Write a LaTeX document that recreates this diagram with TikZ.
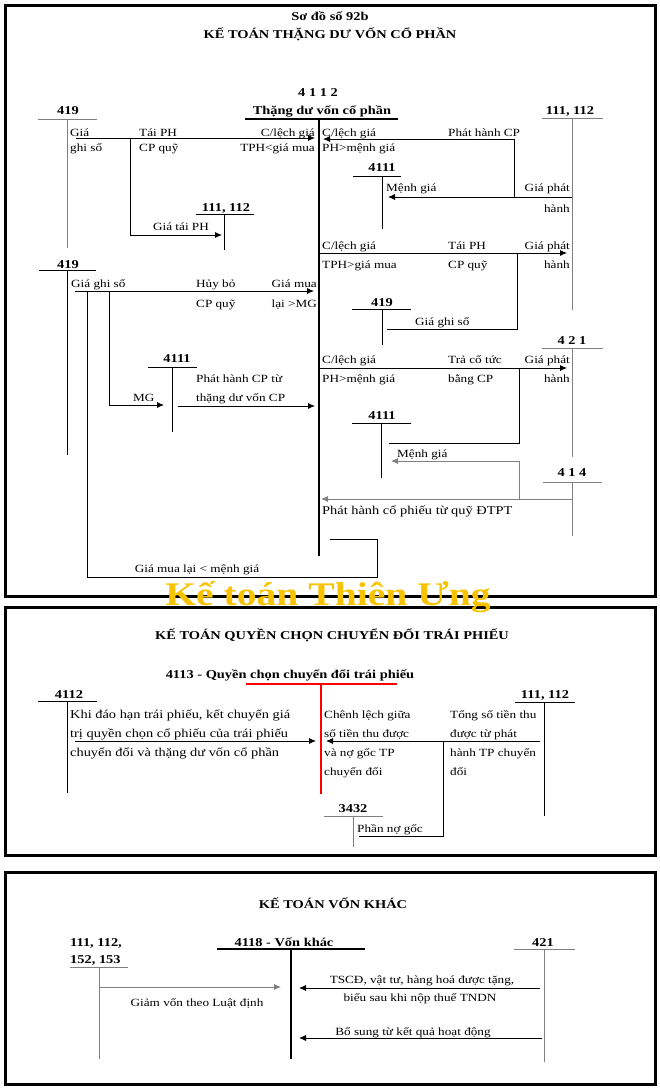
\documentclass[tikz,border=0pt]{standalone}
\usepackage{fontspec}
\setmainfont{Liberation Serif}[FakeStretch=1.2]
\usetikzlibrary{arrows.meta,positioning,calc}
\definecolor{cline}{HTML}{808080}
\definecolor{cred}{HTML}{FF0000}
\definecolor{cmark}{HTML}{F7C200}
\tikzset{
  frame/.style={draw, line width=3pt},
  ttl/.style={font=\fontsize{12}{14}\selectfont\bfseries, inner sep=0pt, anchor=base},
  acc/.style={font=\fontsize{12}{14}\selectfont\bfseries, inner sep=0pt, anchor=base},
  lbl/.style={font=\fontsize{11}{13}\selectfont, inner sep=0pt, anchor=base west},
  lblr/.style={lbl, anchor=base east},
  lblc/.style={lbl, anchor=base},
  big/.style={font=\fontsize{12}{14}\selectfont, inner sep=0pt, anchor=base west},
  wmark/.style={font=\fontsize{33}{36}\selectfont\bfseries, text=cmark, inner sep=0pt, anchor=base},
  tk/.style={line width=0.8pt},
  tkg/.style={tk, draw=cline},
  tkb/.style={line width=2pt},
  tkr/.style={line width=1.5pt, draw=cred},
  link/.style={line width=0.8pt},
  flow/.style={link, -{Latex[length=7pt,width=6pt]}},
  flowg/.style={flow, draw=cline},
}
% T-account: style, name, left x, right x, stem x, top y, bottom y
\newcommand{\tacct}[7]{%
  \coordinate (#2-l) at (#3,#6);
  \coordinate (#2-r) at (#4,#6);
  \coordinate (#2-t) at (#5,#6);
  \coordinate (#2-b) at (#5,#7);
  \draw[#1] (#2-l) -- (#2-r) (#2-t) -- (#2-b);
}
\begin{document}
\begin{tikzpicture}[x=1pt, y=-1pt]
  \useasboundingbox (0,0) rectangle (660,1090);
  \draw[frame] (5.5,5.5) rectangle (655,596);
  \draw[frame] (5.5,607.5) rectangle (655,855);
  \draw[frame] (5.5,872) rectangle (655,1084);

  % ---- so do 92b
  \node[ttl] (h1) at (330,20) {Sơ đồ số 92b};
  \node[ttl] (h2) at (330,38) {KẾ TOÁN THẶNG DƯ VỐN CỔ PHẦN};

  \tacct{tkb}{a4112}{245}{398}{318.5}{119}{556}
  \tacct{tkg}{a419a}{38}{97}{67}{119}{248}
  \tacct{tk}{a111s}{196}{254}{224}{214}{250}
  \tacct{tkg}{a111r}{542}{603}{572}{118}{310}
  \tacct{tk}{a4111a}{353}{401}{382}{176}{229}
  \tacct{tk}{a419c}{352}{411}{382}{309}{345}
  \tacct{tk}{a419b}{39}{96}{67}{270}{455}
  \tacct{tkg}{a421}{542}{603}{572}{348}{457}
  \tacct{tk}{a4111b}{148}{197}{172}{367}{432}
  \tacct{tk}{a4111c}{352}{411}{381}{423}{478}
  \tacct{tkg}{a414}{543}{602}{572}{482}{536}

  \node[acc] (n4112) at (318,96) {4 1 1 2};
  \node[acc] (n4112t) at (322,114) {Thặng dư vốn cổ phần};
  \node[acc] (n419a) at (68,114) {419};
  \node[acc] (n111r) at (570,114) {111, 112};
  \node[acc] (n4111a) at (382,171) {4111};
  \node[acc] (n111s) at (226,211) {111, 112};
  \node[acc] (n419b) at (68,268) {419};
  \node[acc] (n419c) at (382,306) {419};
  \node[acc] (n421) at (572,344) {4 2 1};
  \node[acc] (n4111b) at (177,362) {4111};
  \node[acc] (n4111c) at (382,419) {4111};
  \node[acc] (n414) at (572,476) {4 1 4};

  \node[lbl] (t1) at (70,136) {Giá};
  \node[lbl] (t2) at (70,151) {ghi sổ};
  \node[lbl] (t3) at (139,136) {Tái PH};
  \node[lbl] (t4) at (139,151) {CP quỹ};
  \node[lblr] (t5) at (315,136) {C/lệch giá};
  \node[lblr] (t6) at (315,151) {TPH<giá mua};
  \node[lbl] (t7) at (322,136) {C/lệch giá};
  \node[lbl] (t8) at (322,151) {PH>mệnh giá};
  \node[lbl] (t9) at (448,136) {Phát hành CP};
  \node[lbl] (t10) at (386,191) {Mệnh giá};
  \node[lblr] (t11) at (570,191) {Giá phát};
  \node[lblr] (t12) at (570,212) {hành};
  \node[lblc] (t13) at (181,230) {Giá tái PH};
  \node[lbl] (t14) at (322,249) {C/lệch giá};
  \node[lbl] (t15) at (322,268) {TPH>giá mua};
  \node[lbl] (t16) at (448,249) {Tái PH};
  \node[lbl] (t17) at (448,268) {CP quỹ};
  \node[lblr] (t18) at (570,249) {Giá phát};
  \node[lblr] (t19) at (570,268) {hành};
  \node[lbl] (t20) at (71,287) {Giá ghi sổ};
  \node[lbl] (t21) at (196,287) {Hủy bỏ};
  \node[lbl] (t22) at (196,307) {CP quỹ};
  \node[lblr] (t23) at (317,287) {Giá mua};
  \node[lblr] (t24) at (317,307) {lại >MG};
  \node[lbl] (t25) at (415,325) {Giá ghi sổ};
  \node[lbl] (t26) at (322,363) {C/lệch giá};
  \node[lbl] (t27) at (322,382) {PH>mệnh giá};
  \node[lbl] (t28) at (448,363) {Trả cổ tức};
  \node[lbl] (t29) at (448,382) {bằng CP};
  \node[lblr] (t30) at (570,363) {Giá phát};
  \node[lblr] (t31) at (570,382) {hành};
  \node[lbl] (t32) at (196,382) {Phát hành CP từ};
  \node[lbl] (t33) at (196,401) {thặng dư vốn CP};
  \node[lbl] (t34) at (133,401) {MG};
  \node[lbl] (t35) at (397,457) {Mệnh giá};
  \node[big] (t36) at (322,514) {Phát hành cổ phiếu từ quỹ ĐTPT};
  \node[lblc] (t37) at (197,572) {Giá mua lại < mệnh giá};

  % 419 -> 4112, 111/112
  \coordinate (p1a) at (76,138); \coordinate (p1b) at (315,138);
  \draw[flow] (p1a) -- (p1b);
  \coordinate (p2a) at (130,138); \coordinate (p2b) at (222,235);
  \draw[flow] (p2a) |- (p2b);
  % 111/112 -> 4111, 4112
  \coordinate (p3a) at (572,197); \coordinate (p3b) at (388,197);
  \draw[flow] (p3a) -- (p3b);
  \coordinate (p4a) at (514,197); \coordinate (p4b) at (323,139);
  \draw[flow] (p4a) |- (p4b);
  % 4112 -> 111/112, 419
  \coordinate (p5a) at (320,253); \coordinate (p5b) at (567,253);
  \draw[flow] (p5a) -- (p5b);
  \coordinate (p6a) at (517,253); \coordinate (p6b) at (387,329);
  \draw[link] (p6a) |- (p6b);
  % 4112 -> 421
  \coordinate (p7a) at (320,368); \coordinate (p7b) at (567,368);
  \draw[flow] (p7a) -- (p7b);
  \coordinate (p8a) at (519,368); \coordinate (p8b) at (389,443);
  \draw[link] (p8a) |- (p8b);
  % 414 -> 4112, 4111
  \coordinate (p9a) at (572,499); \coordinate (p9b) at (321,499);
  \draw[flowg] (p9a) -- (p9b);
  \coordinate (p10a) at (519,499); \coordinate (p10b) at (391,461);
  \draw[flowg] (p10a) |- (p10b);
  % 419 -> 4112, 4111
  \coordinate (p11a) at (75,291); \coordinate (p11b) at (314,291);
  \draw[flow] (p11a) -- (p11b);
  \coordinate (p12a) at (109,291); \coordinate (p12b) at (164,405);
  \draw[flow] (p12a) |- (p12b);
  \coordinate (p13a) at (178,406); \coordinate (p13b) at (315,406);
  \draw[flow] (p13a) -- (p13b);
  \coordinate (p14a) at (87,291); \coordinate (p14b) at (377,577);
  \coordinate (p14c) at (330,539);
  \draw[link] (p14a) |- (p14b) |- (p14c);

  % ---- quyen chon chuyen doi
  \node[ttl] (h3) at (332,639) {KẾ TOÁN QUYỀN CHỌN CHUYỂN ĐỔI TRÁI PHIẾU};
  \tacct{tkr}{a4113}{246}{397}{321}{684}{794}
  \tacct{tk}{a4112b}{38}{97}{67}{701}{793}
  \tacct{tk}{a111c}{515}{575}{544}{702}{816}
  \tacct{tkg}{a3432}{324}{383}{353}{816}{847}
  \node[acc] (n4113) at (290,678) {4113 - Quyền chọn chuyển đổi trái phiếu};
  \node[acc] (n4112b) at (69,698) {4112};
  \node[acc] (n111c) at (545,698) {111, 112};
  \node[acc] (n3432) at (353,812) {3432};
  \node[big] (u1) at (70,718) {Khi đáo hạn trái phiếu, kết chuyển giá};
  \node[big] (u2) at (70,737) {trị quyền chọn cổ phiếu của trái phiếu};
  \node[big] (u3) at (70,756) {chuyển đổi và thặng dư vốn cổ phần};
  \node[lbl] (u4) at (324,718) {Chênh lệch giữa};
  \node[lbl] (u5) at (324,737) {số tiền thu được};
  \node[lbl] (u6) at (324,756) {và nợ gốc TP};
  \node[lbl] (u7) at (324,775) {chuyển đổi};
  \node[lbl] (u8) at (450,718) {Tổng số tiền thu};
  \node[lbl] (u9) at (450,737) {được từ phát};
  \node[lbl] (u10) at (450,756) {hành TP chuyển};
  \node[lbl] (u11) at (450,775) {đổi};
  \node[lbl] (u12) at (357,832) {Phần nợ gốc};
  \coordinate (q1a) at (75,741); \coordinate (q1b) at (316,741);
  \draw[flow] (q1a) -- (q1b);
  \coordinate (q2a) at (540,741); \coordinate (q2b) at (326,741);
  \draw[flow] (q2a) -- (q2b);
  \coordinate (q3a) at (443,741); \coordinate (q3b) at (359,836);
  \draw[link] (q3a) |- (q3b);

  % ---- von khac
  \node[ttl] (h4) at (333,908) {KẾ TOÁN VỐN KHÁC};
  \tacct{tkg}{a111d}{70}{128}{99}{967}{1059}
  \tacct{tkb}{a4118}{217}{365}{291}{949}{1059}
  \tacct{tkg}{a421b}{514}{575}{544}{949}{1062}
  \node[acc, anchor=base west] (n111d) at (70,946) {111, 112,};
  \node[acc, anchor=base west] (n152d) at (70,963) {152, 153};
  \node[acc] (n4118) at (284,946) {4118 - Vốn khác};
  \node[acc] (n421b) at (543,946) {421};
  \node[lblc] (v1) at (197,1006) {Giảm vốn theo Luật định};
  \node[lblc] (v2) at (422,983) {TSCĐ, vật tư, hàng hoá được tặng,};
  \node[lblc] (v3) at (420,1001) {biếu sau khi nộp thuế TNDN};
  \node[lblc] (v4) at (413,1035) {Bổ sung từ kết quả hoạt động};
  \coordinate (r1a) at (99,987); \coordinate (r1b) at (281,987);
  \draw[flowg] (r1a) -- (r1b);
  \coordinate (r2a) at (540,988); \coordinate (r2b) at (299,988);
  \draw[flow] (r2a) -- (r2b);
  \coordinate (r3a) at (542,1038); \coordinate (r3b) at (299,1038);
  \draw[flow] (r3a) -- (r3b);

  \node[wmark] (mark) at (328,605) {Kế toán Thiên Ưng};
\end{tikzpicture}
\end{document}
